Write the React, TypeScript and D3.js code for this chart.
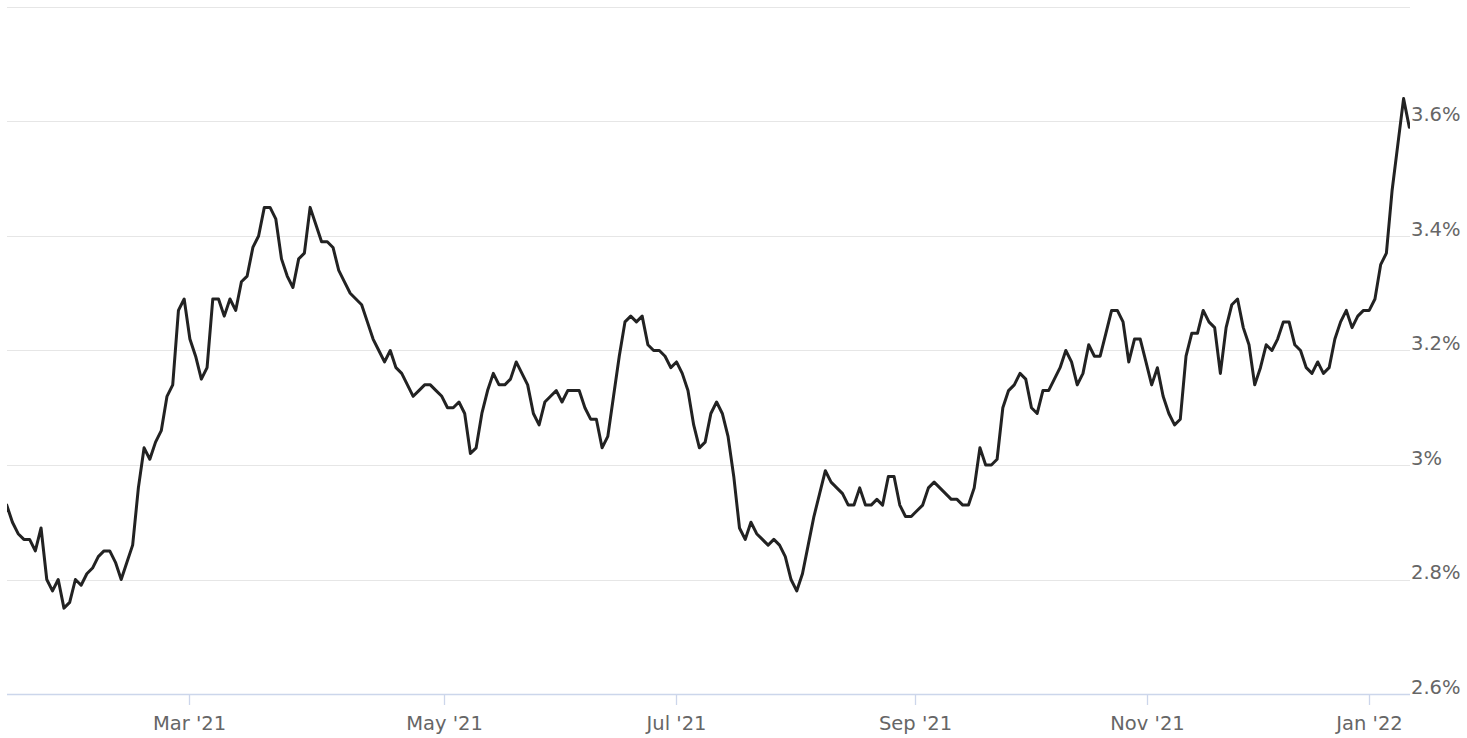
import React, { useRef, useEffect } from 'react';
import * as d3 from 'd3';

// Daily yield readings (%), oldest first; the first one sits just left of the plot
const yieldValues = [
  2.87,
  2.93, 2.90, 2.88, 2.87, 2.87, 2.85, 2.89, 2.80, 2.78, 2.80, 2.75, 2.76, 2.80, 2.79,
  2.81, 2.82, 2.84, 2.85, 2.85, 2.83, 2.80, 2.83, 2.86, 2.96, 3.03, 3.01, 3.04, 3.06,
  3.12, 3.14, 3.27, 3.29, 3.22, 3.19, 3.15, 3.17, 3.29, 3.29, 3.26, 3.29, 3.27,
  3.32, 3.33, 3.38, 3.40, 3.45, 3.45, 3.43, 3.36, 3.33, 3.31, 3.36, 3.37, 3.45, 3.42,
  3.39, 3.39, 3.38, 3.34, 3.32, 3.30, 3.29, 3.28, 3.25, 3.22, 3.20, 3.18, 3.20, 3.17,
  3.16, 3.14, 3.12, 3.13, 3.14, 3.14, 3.13, 3.12, 3.10, 3.10, 3.11, 3.09,
  3.02, 3.03, 3.09, 3.13, 3.16, 3.14, 3.14, 3.15, 3.18, 3.16, 3.14, 3.09, 3.07, 3.11,
  3.12, 3.13, 3.11, 3.13, 3.13, 3.13, 3.10, 3.08, 3.08, 3.03, 3.05, 3.12, 3.19, 3.25,
  3.26, 3.25, 3.26, 3.21, 3.20, 3.20, 3.19, 3.17, 3.18, 3.16, 3.13,
  3.07, 3.03, 3.04, 3.09, 3.11, 3.09, 3.05, 2.98, 2.89, 2.87, 2.90, 2.88, 2.87, 2.86,
  2.87, 2.86, 2.84, 2.80, 2.78, 2.81, 2.86, 2.91, 2.95, 2.99, 2.97, 2.96, 2.95, 2.93,
  2.93, 2.96, 2.93, 2.93, 2.94, 2.93, 2.98, 2.98, 2.93, 2.91, 2.91, 2.92,
  2.93, 2.96, 2.97, 2.96, 2.95, 2.94, 2.94, 2.93, 2.93, 2.96, 3.03, 3.00, 3.00, 3.01,
  3.10, 3.13, 3.14, 3.16, 3.15, 3.10, 3.09, 3.13, 3.13, 3.15, 3.17, 3.20, 3.18, 3.14,
  3.16, 3.21, 3.19, 3.19, 3.23, 3.27, 3.27, 3.25, 3.18, 3.22, 3.22, 3.18,
  3.14, 3.17, 3.12, 3.09, 3.07, 3.08, 3.19, 3.23, 3.23, 3.27, 3.25, 3.24, 3.16, 3.24,
  3.28, 3.29, 3.24, 3.21, 3.14, 3.17, 3.21, 3.20, 3.22, 3.25, 3.25, 3.21, 3.20, 3.17,
  3.16, 3.18, 3.16, 3.17, 3.22, 3.25, 3.27, 3.24, 3.26, 3.27, 3.27, 3.29, 3.35, 3.37,
  3.48, 3.56, 3.64, 3.59,
];

// Month ticks, placed at their position in the (trading-day) index
const tickLabels = ["Mar '21", "May '21", "Jul '21", "Sep '21", "Nov '21", "Jan '22"];
const tickIndex = [32.84, 77.38, 117.9, 159.66, 200.18, 238.96];

const yTicks = [2.6, 2.8, 3.0, 3.2, 3.4, 3.6, 3.8];
const yLabels = ['2.6%', '2.8%', '3%', '3.2%', '3.4%', '3.6%', ''];

const App = () => {
  const chartRef = useRef<SVGSVGElement | null>(null);

  useEffect(() => {
    const svg = d3.select(chartRef.current);
    svg.selectAll('*').remove();

    const left = 7;
    const right = 1410;
    const top = 7;
    const bottom = 694;
    const font = '"DejaVu Sans", Verdana, sans-serif';

    const x = d3.scaleLinear()
      .domain([1, yieldValues.length - 1])
      .range([6.7, 1409.3]);

    const y = d3.scaleLinear()
      .domain([2.6, 3.8])
      .range([bottom, top]);

    // gridlines
    svg.append('g')
      .selectAll('line')
      .data(yTicks)
      .enter()
      .append('line')
      .attr('x1', left)
      .attr('x2', right)
      .attr('y1', d => Math.round(y(d)) + 0.5)
      .attr('y2', d => Math.round(y(d)) + 0.5)
      .attr('stroke', '#e6e6e6')
      .attr('stroke-width', 1);

    // y labels on the right, sitting on their gridline
    svg.append('g')
      .selectAll('text')
      .data(yTicks)
      .enter()
      .append('text')
      .attr('x', right + 1)
      .attr('y', d => y(d) - 0.5)
      .attr('font-family', font)
      .attr('font-size', 19.5)
      .attr('fill', '#666666')
      .text((d, i) => yLabels[i]);

    // x axis line and ticks
    svg.append('line')
      .attr('x1', left)
      .attr('x2', right)
      .attr('y1', bottom + 0.5)
      .attr('y2', bottom + 0.5)
      .attr('stroke', '#ccd6eb')
      .attr('stroke-width', 1.3);

    const ticks = svg.append('g')
      .selectAll('g')
      .data(tickIndex)
      .enter()
      .append('g')
      .attr('transform', d => `translate(${Math.round(x(d)) + 0.5},0)`);

    ticks.append('line')
      .attr('y1', bottom)
      .attr('y2', bottom + 11)
      .attr('stroke', '#ccd6eb')
      .attr('stroke-width', 1.3);

    ticks.append('text')
      .attr('y', 730)
      .attr('text-anchor', 'middle')
      .attr('font-family', font)
      .attr('font-size', 19.5)
      .attr('fill', '#666666')
      .text((d, i) => tickLabels[i]);

    // clip the series to the plot area
    svg.append('clipPath')
      .attr('id', 'plot-clip')
      .append('rect')
      .attr('x', left)
      .attr('y', 0)
      .attr('width', right - left)
      .attr('height', bottom + 5);

    const line = d3.line<number>()
      .x((d, i) => x(i))
      .y(d => y(d));

    svg.append('path')
      .datum(yieldValues)
      .attr('clip-path', 'url(#plot-clip)')
      .attr('d', line)
      .attr('fill', 'none')
      .attr('stroke', '#222222')
      .attr('stroke-width', 3)
      .attr('stroke-linejoin', 'round')
      .attr('stroke-linecap', 'round');
  }, []);

  return (
    <svg
      ref={chartRef}
      width={1467}
      height={738}
      style={{ position: 'absolute', left: 0, top: 0, background: '#ffffff' }}
    />
  );
};

export default App;
